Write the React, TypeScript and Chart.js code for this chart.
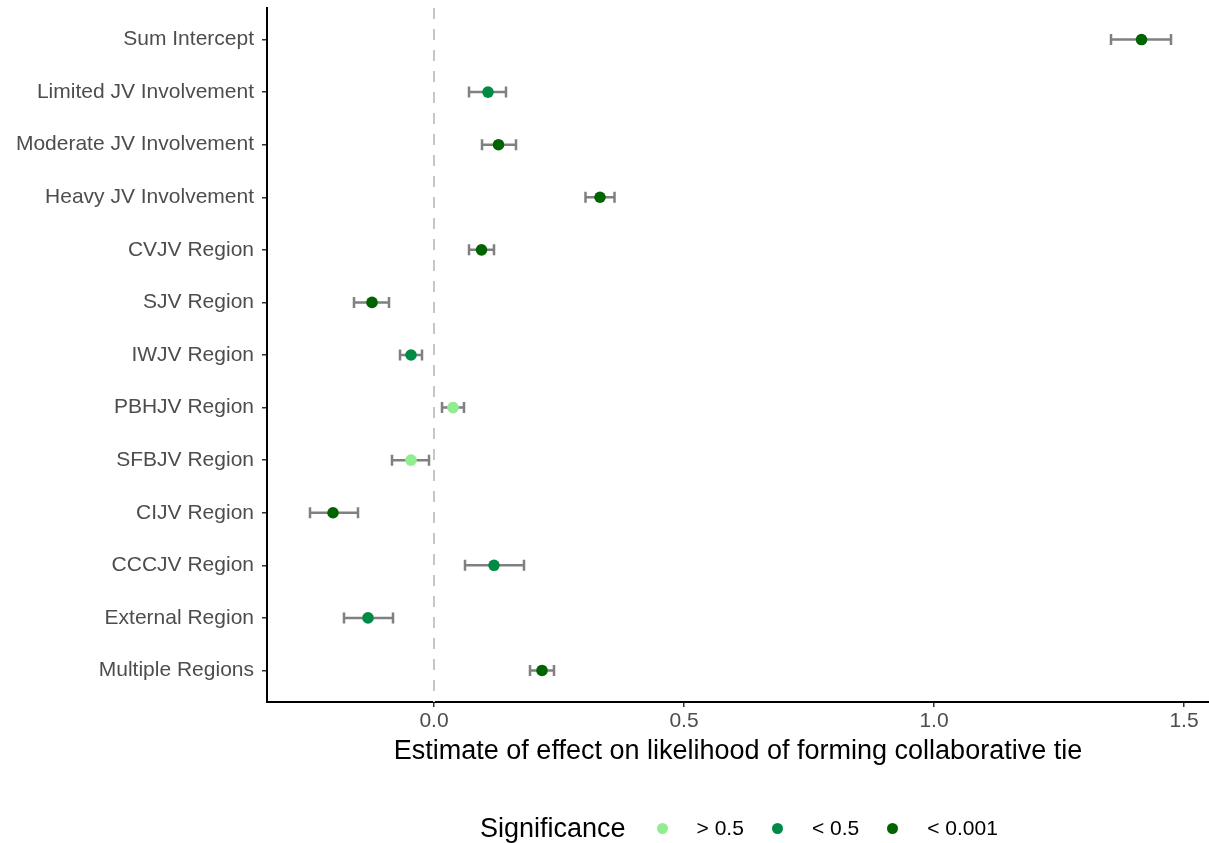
import React, { useEffect, useRef } from "react";
import { Chart, registerables } from "chart.js";

Chart.register(...registerables);

const categories = [
  "Sum Intercept",
  "Limited JV Involvement",
  "Moderate JV Involvement",
  "Heavy JV Involvement",
  "CVJV Region",
  "SJV Region",
  "IWJV Region",
  "PBHJV Region",
  "SFBJV Region",
  "CIJV Region",
  "CCCJV Region",
  "External Region",
  "Multiple Regions",
];
const estimates = [1.415, 0.108, 0.129, 0.332, 0.095, -0.124, -0.046, 0.038, -0.046, -0.202, 0.12, -0.132, 0.216];
const lower = [1.354, 0.07, 0.096, 0.303, 0.07, -0.16, -0.068, 0.016, -0.084, -0.248, 0.062, -0.18, 0.192];
const upper = [1.474, 0.144, 0.164, 0.361, 0.12, -0.09, -0.024, 0.06, -0.01, -0.152, 0.18, -0.082, 0.24];
const significance = [
  "< 0.001", "< 0.5", "< 0.001", "< 0.001", "< 0.001", "< 0.001", "< 0.5",
  "> 0.5", "> 0.5", "< 0.001", "< 0.5", "< 0.5", "< 0.001",
];
const levels = ["> 0.5", "< 0.5", "< 0.001"];
const levelColors = ["#90EE90", "#008B45", "#006400"];
const xTicks = [0, 0.5, 1.0, 1.5];

const FONT = "'Liberation Sans', Arial, Helvetica, sans-serif";

const errorBarPlugin = {
  id: "errorBars",
  beforeDatasetsDraw(chart: any) {
    const { ctx, chartArea, scales } = chart;
    const x = scales.x;
    const y = scales.y;
    ctx.save();
    const x0 = x.getPixelForValue(0);
    ctx.strokeStyle = "#C6C6C6";
    ctx.lineWidth = 2;
    ctx.setLineDash([11, 10]);
    ctx.beginPath();
    ctx.moveTo(x0, chartArea.top);
    ctx.lineTo(x0, chartArea.bottom);
    ctx.stroke();
    ctx.setLineDash([]);
    ctx.strokeStyle = "#808080";
    ctx.lineWidth = 2.5;
    categories.forEach((_, i) => {
      const yp = y.getPixelForValue(i);
      const xl = x.getPixelForValue(lower[i]);
      const xh = x.getPixelForValue(upper[i]);
      ctx.beginPath();
      ctx.moveTo(xl, yp);
      ctx.lineTo(xh, yp);
      ctx.moveTo(xl, yp - 5.5);
      ctx.lineTo(xl, yp + 5.5);
      ctx.moveTo(xh, yp - 5.5);
      ctx.lineTo(xh, yp + 5.5);
      ctx.stroke();
    });
    ctx.restore();
  },
};

const zeroPadding = (scale: any) => {
  scale.paddingTop = 0;
  scale.paddingBottom = 0;
  scale.paddingLeft = 0;
  scale.paddingRight = 0;
};

export default function App() {
  const ref = useRef<HTMLCanvasElement | null>(null);

  useEffect(() => {
    if (!ref.current) return;
    const datasets = levels.map((lvl, li) => ({
      label: lvl,
      data: categories
        .map((_, i) => ({ x: estimates[i], y: i, s: significance[i] }))
        .filter((d) => d.s === lvl)
        .map((d) => ({ x: d.x, y: d.y })),
      backgroundColor: levelColors[li],
      borderColor: levelColors[li],
      pointRadius: 5.8,
      pointBorderWidth: 0,
      pointHoverRadius: 5.8,
    }));

    const chart = new Chart(ref.current, {
      type: "scatter",
      data: { datasets },
      plugins: [errorBarPlugin],
      options: {
        animation: false,
        responsive: false,
        devicePixelRatio: 1,
        events: [],
        layout: { autoPadding: false, padding: { top: 8, right: 0, bottom: 71, left: 0 } },
        plugins: {
          legend: { display: false },
          tooltip: { enabled: false },
        },
        scales: {
          x: {
            type: "linear",
            min: -0.334,
            max: 1.55,
            afterBuildTicks: (scale: any) => {
              scale.ticks = xTicks.map((v) => ({ value: v }));
            },
            afterFit: (scale: any) => {
              scale.height = 70;
              zeroPadding(scale);
            },
            grid: {
              display: true,
              drawOnChartArea: false,
              drawTicks: true,
              tickLength: 5,
              color: "#333333",
              lineWidth: 1.5,
            },
            border: { display: true, color: "#000000", width: 2 },
            ticks: {
              padding: 2,
              color: "#4D4D4D",
              font: { family: FONT, size: 21 },
              callback: (v: any) => Number(v).toFixed(1),
            },
            title: {
              display: true,
              text: "Estimate of effect on likelihood of forming collaborative tie",
              color: "#000000",
              font: { family: FONT, size: 27 },
              padding: { top: 4, bottom: 4 },
            },
          },
          y: {
            type: "linear",
            min: -0.6,
            max: 12.6,
            reverse: true,
            afterBuildTicks: (scale: any) => {
              scale.ticks = categories.map((_, i) => ({ value: i }));
            },
            afterFit: (scale: any) => {
              scale.width = 267;
              zeroPadding(scale);
            },
            grid: {
              display: true,
              drawOnChartArea: false,
              drawTicks: true,
              tickLength: 5,
              color: "#333333",
              lineWidth: 1.5,
            },
            border: { display: true, color: "#000000", width: 2 },
            ticks: {
              padding: 8,
              color: "#4D4D4D",
              font: { family: FONT, size: 21 },
              autoSkip: false,
              callback: (v: any) => categories[Math.round(Number(v))] ?? "",
            },
          },
        },
      },
    } as any);
    return () => chart.destroy();
  }, []);

  return (
    <div
      style={{
        position: "absolute",
        left: 0,
        top: 0,
        width: 1209,
        height: 843,
        background: "#ffffff",
        overflow: "hidden",
      }}
    >
      <canvas ref={ref} width={1209} height={843} style={{ display: "block", width: 1209, height: 843 }} />
      <div
        style={{
          position: "absolute",
          left: 480,
          top: 810,
          height: 36,
          display: "flex",
          alignItems: "center",
          fontFamily: FONT,
          whiteSpace: "nowrap",
        }}
      >
        <span style={{ fontSize: 27, color: "#000", marginRight: 31 }}>Significance</span>
        {levels.map((lvl, i) => (
          <span key={lvl} style={{ display: "flex", alignItems: "center", marginRight: 28 }}>
            <span
              style={{
                display: "inline-block",
                width: 11,
                height: 11,
                borderRadius: "50%",
                background: levelColors[i],
                marginRight: 29,
              }}
            />
            <span style={{ fontSize: 21, color: "#000" }}>{lvl}</span>
          </span>
        ))}
      </div>
    </div>
  );
}
